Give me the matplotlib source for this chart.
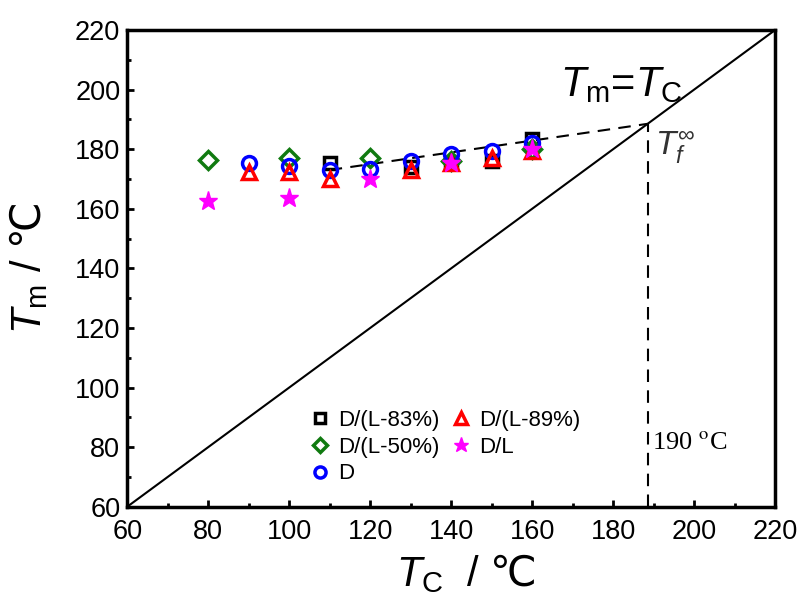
import matplotlib
matplotlib.use("Agg")
import matplotlib.pyplot as plt
from matplotlib.ticker import MultipleLocator

plt.rcParams['font.family'] = ['Liberation Sans', 'DejaVu Sans']
plt.rcParams['mathtext.fontset'] = 'custom'
plt.rcParams['mathtext.rm'] = 'Liberation Sans'
plt.rcParams['mathtext.it'] = 'Liberation Sans:italic'
plt.rcParams['mathtext.sf'] = 'Noto Sans CJK SC'

# data (Tc, Tm in degC)
tc_83 = [110, 130, 140, 150, 160]
tm_83 = [175.5, 174.0, 175.5, 176.0, 183.5]

tc_89 = [90, 100, 110, 130, 140, 150, 160]
tm_89 = [172.5, 172.5, 170.0, 173.0, 175.5, 177.0, 179.5]

tc_50 = [80, 100, 120, 140, 160]
tm_50 = [176.5, 177.0, 177.0, 176.0, 180.0]

tc_dl = [80, 100, 120, 140, 160]
tm_dl = [162.5, 163.5, 170.0, 175.5, 180.0]

tc_d = [90, 100, 110, 120, 130, 140, 150, 160]
tm_d = [175.5, 174.5, 173.0, 173.5, 176.0, 178.5, 179.5, 182.0]

fit_x = [110, 188.5]
fit_y = [173.0, 188.5]
diag = [60, 220]

fig = plt.figure(figsize=(8, 5.99), dpi=100)
ax = fig.add_axes([0.159, 0.154, 0.810, 0.796])

ax.plot(diag, diag, color='black', lw=1.5)
ax.plot(fit_x, fit_y, color='black', lw=1.5, ls=(0, (6, 4)))
ax.plot([fit_x[-1], fit_x[-1]], [60, fit_y[-1]], color='black', lw=1.5, ls=(0, (6, 4)))

ms = 10
ax.plot(tc_83, tm_83, 's', ms=ms - 1, mfc='none', mec='black', mew=2.5, ls='none', label='D/(L-83%)')
ax.plot(tc_50, tm_50, 'D', ms=ms - 1, mfc='none', mec='#107a10', mew=2.5, ls='none', label='D/(L-50%)')
ax.plot(tc_d, tm_d, 'o', ms=ms, mfc='none', mec='blue', mew=2.5, ls='none', label='D')
ax.plot(tc_89, tm_89, '^', ms=ms, mfc='none', mec='red', mew=2.5, ls='none', label='D/(L-89%)')
ax.plot(tc_dl, tm_dl, '*', ms=ms + 4, mfc='magenta', mec='magenta', mew=1, ls='none', label='D/L')

ax.set_xlim(60, 220)
ax.set_ylim(60, 220)
ax.xaxis.set_major_locator(MultipleLocator(20))
ax.xaxis.set_minor_locator(MultipleLocator(10))
ax.yaxis.set_major_locator(MultipleLocator(20))
ax.yaxis.set_minor_locator(MultipleLocator(10))
ax.tick_params(which='both', direction='in', top=False, right=False, labelsize=19.5, width=2)
ax.tick_params(which='major', length=5)
ax.tick_params(which='minor', length=3)
ax.tick_params(axis='x', which='both', pad=9)
ax.tick_params(axis='y', which='both', pad=5)
for s in ax.spines.values():
    s.set_linewidth(2.5)

ax.set_xlabel(r'$T_{\rm C}$  / $\mathsf{℃}$', fontsize=30)
ax.xaxis.set_label_coords(0.523, -0.095)
ax.set_ylabel(r'$T_{\rm m}$ / $\mathsf{℃}$', fontsize=30, labelpad=18)

ax.text(197, 201.5, r'$T_{\rm m}$=$T_{\rm C}$', fontsize=30, ha='right', va='center')
ax.text(190.3, 180.4, r'$T_f^{\infty}$', fontsize=24, ha='left', va='center', color='#333333')
ax.text(189.6, 81.4, '190 $^{\\rm o}$C', fontsize=19, ha='left', va='center',
        family='Liberation Serif', math_fontfamily='stix')

ax.legend(ncol=2, loc='lower left', bbox_to_anchor=(0.246, 0.005), frameon=False,
          fontsize=16, handletextpad=0.2, columnspacing=0.4, labelspacing=0.25,
          handlelength=1.2, markerscale=0.8)

fig.savefig('out.png', dpi=100)
